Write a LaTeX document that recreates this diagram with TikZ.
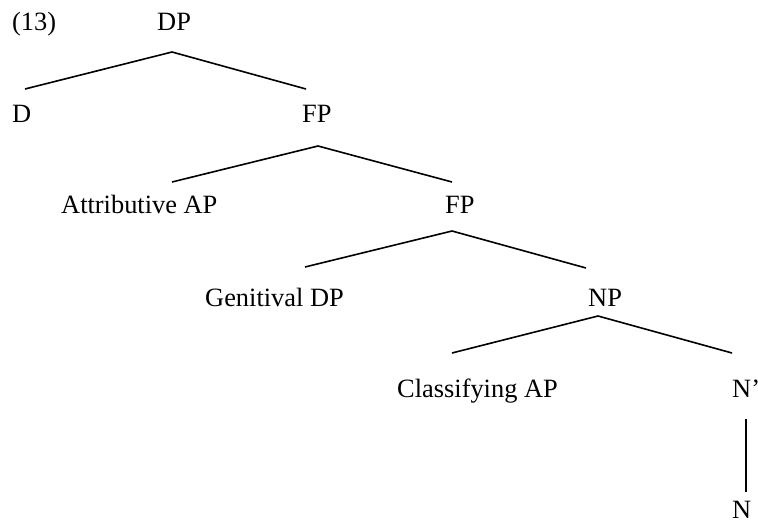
\documentclass[tikz,border=0pt]{standalone}
\usepackage{fontspec}
\setmainfont{Liberation Serif}
\usepackage{tikz}
\usetikzlibrary{positioning}
\tikzset{
  lbl/.style={anchor=base west, inner sep=0pt, font=\fontsize{26.4}{31}\selectfont},
  branch/.style={line width=1.6pt}
}

\begin{document}
\begin{tikzpicture}[x=1pt,y=-1pt]
    \useasboundingbox (0,0) rectangle (758,522);

    % labels
    \node[lbl] (ex) at (12,30) {(13)};
    \node[lbl] (dp) at (157,30) {DP};
    \node[lbl] (d) at (12,122) {D};
    \node[lbl] (fpa) at (302,122) {FP};
    \node[lbl] (attr) at (61,213) {Attributive AP};
    \node[lbl] (fpb) at (445,213) {FP};
    \node[lbl] (gen) at (205,306) {Genitival DP};
    \node[lbl] (np) at (588,306) {NP};
    \node[lbl] (cls) at (397,397) {Classifying AP};
    \node[lbl] (nbar) at (732,397) {N'};
    \node[lbl] (n) at (732,518) {N};

    % branch points
    \coordinate (dp-j) at (172,52);
    \coordinate (d-j) at (25,89);
    \coordinate (fpa-t) at (306,89);
    \coordinate (fpa-j) at (318,146);
    \coordinate (attr-j) at (172,182);
    \coordinate (fpb-t) at (452,182);
    \coordinate (fpb-j) at (452,231);
    \coordinate (gen-j) at (305,267);
    \coordinate (np-t) at (586,268);
    \coordinate (np-j) at (598,316);
    \coordinate (cls-j) at (452,353);
    \coordinate (nbar-t) at (732,353);
    \coordinate (nbar-j) at (746,419);
    \coordinate (n-t) at (746,492);

    \draw[branch] (d-j) -- (dp-j) -- (fpa-t);
    \draw[branch] (attr-j) -- (fpa-j) -- (fpb-t);
    \draw[branch] (gen-j) -- (fpb-j) -- (np-t);
    \draw[branch] (cls-j) -- (np-j) -- (nbar-t);
    \draw[branch] (nbar-j) -- (n-t);
\end{tikzpicture}
\end{document}
